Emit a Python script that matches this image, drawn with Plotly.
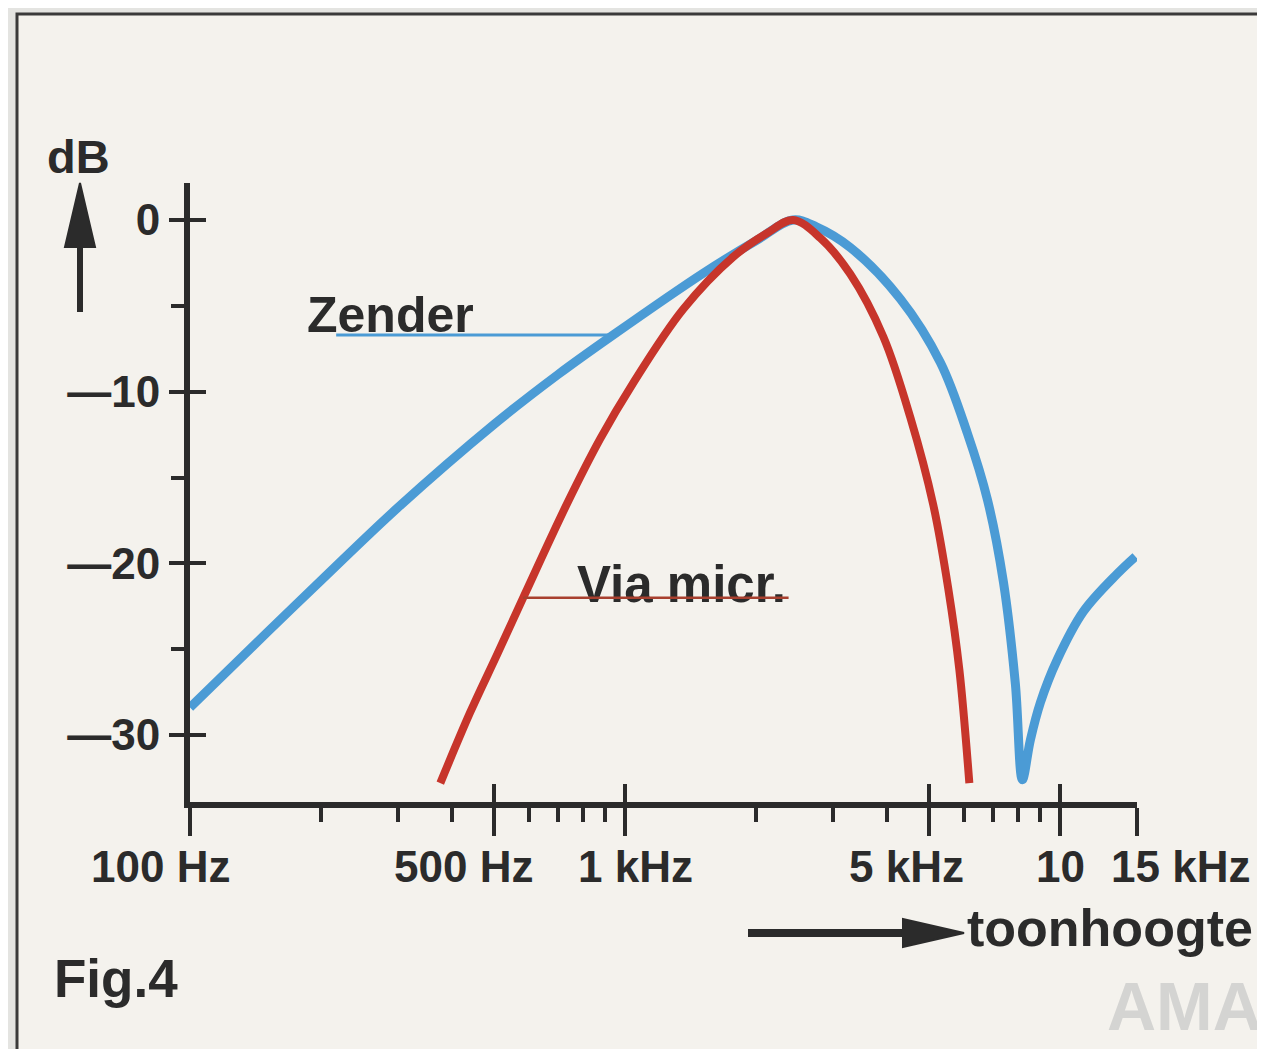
import numpy as np
import plotly.graph_objects as go

# Zender (transmitter) response
zender_freq = [100, 150, 200, 299, 500, 701, 938, 1511, 2000, 2430, 2750, 3290,
               4290, 5300, 6110, 6800, 7400, 7880, 8180, 8530, 9000, 9840, 11300, 13520, 14880]
zender_db = [-28.4, -24.05, -21.0, -16.8, -11.9, -9.0, -6.7, -3.1, -1.2, 0.0, -0.4, -1.6,
             -4.6, -8.3, -12.4, -16.3, -21.1, -27.0, -32.6, -30.3, -28.1, -25.6, -22.8, -20.6, -19.6]

# Via microfoon response
micr_freq = [376, 440, 508, 583, 736, 876, 1043, 1359, 1771, 2121, 2430,
             2808, 3290, 3919, 4521, 5105, 5528, 5860, 6178]
micr_db = [-32.8, -28.7, -25.3, -22.0, -16.5, -12.75, -9.5, -5.2, -2.15, -0.76, 0.0,
           -1.05, -3.15, -6.8, -11.5, -16.6, -21.5, -26.2, -32.8]

x_major = [100, 500, 1000, 5000, 10000, 15000]
x_major_text = ["100 Hz", "500 Hz", "1 kHz", "5 kHz", "10", "15 kHz"]
x_minor = [200, 300, 400, 600, 700, 800, 900, 2000, 3000, 4000, 6000, 7000, 8000, 9000]
y_major = [0, -10, -20, -30]
y_major_text = ["0", "\u201410", "\u201420", "\u201430"]
y_minor = [-5, -15, -25]

# how far each x label sits from its tick (pixels), as typeset in the original
x_label_shift = [-30, -31, 10, -23, 0, 43]

INK = "#2b2b2b"
BLUE = "#4b9bd5"
RED = "#c7352b"
PAPER = "#f4f2ed"
FONT = "Liberation Sans"

# page puts the figure 8px in from the top-left corner
OFF = 8
W, H = 1265, 1049
# plot area in screen pixels
L, R, T, B = 190, 1137, 183, 802


def px(x):
    return (x - L) / (R - L)


def py(y):
    return (B - y) / (B - T)


x_range = [2, np.log10(15000)]
y_range = [-33.9, 2.155]

fig = go.Figure()
fig.add_trace(go.Scatter(
    x=zender_freq, y=zender_db, mode="lines", name="Zender",
    line=dict(color=BLUE, width=9, shape="spline", smoothing=1.0),
    hoverinfo="x+y"
))
fig.add_trace(go.Scatter(
    x=micr_freq, y=micr_db, mode="lines", name="Via micr.",
    line=dict(color=RED, width=8, shape="spline", smoothing=1.0),
    hoverinfo="x+y"
))
# empty trace so the overlay axes (inner half of the major ticks) get drawn
fig.add_trace(go.Scatter(x=[], y=[], xaxis="x2", yaxis="y2", showlegend=False))

tick_font = dict(family=FONT, size=44, color=INK, weight="bold")
label_font = dict(family=FONT, size=50, color=INK, weight="bold")

i_z = zender_freq.index(938)
i_m = micr_freq.index(583)

annotations = [
    dict(text="dB", x=px(78), y=py(157), xref="paper", yref="paper",
         showarrow=False, font=dict(family=FONT, size=47, color=INK, weight="bold"),
         xanchor="center", yanchor="middle"),
    dict(text="toonhoogte", x=px(965), y=py(928), xref="paper", yref="paper",
         showarrow=False, font=dict(family=FONT, size=52, color=INK, weight="bold"),
         xanchor="left", yanchor="middle"),
    dict(text="Fig.4", x=px(52), y=py(978), xref="paper", yref="paper",
         showarrow=False, font=dict(family=FONT, size=53, color=INK, weight="bold"),
         xanchor="left", yanchor="middle"),
    dict(text="AMA", x=px(1264), y=py(1006), xref="paper", yref="paper",
         showarrow=False, font=dict(family=FONT, size=68, color="#d4d4d2", weight="bold"),
         xanchor="right", yanchor="middle"),
    # Zender label and leader line
    dict(text="Zender", x=px(305), y=py(315), xref="paper", yref="paper",
         showarrow=False, font=label_font, xanchor="left", yanchor="middle"),
    dict(text="", x=np.log10(zender_freq[i_z]), y=zender_db[i_z], xref="x", yref="y",
         showarrow=True, axref="x", ayref="y", ax=np.log10(215), ay=zender_db[i_z],
         arrowhead=0, arrowwidth=3, arrowcolor=BLUE, standoff=0, startstandoff=0),
    # Via micr. label and leader line
    dict(text="Via micr.", x=px(575), y=py(584), xref="paper", yref="paper",
         showarrow=False, font=dict(family=FONT, size=51, color=INK, weight="bold"),
         xanchor="left", yanchor="middle"),
    dict(text="", x=np.log10(micr_freq[i_m]), y=micr_db[i_m], xref="x", yref="y",
         showarrow=True, axref="x", ayref="y", ax=np.log10(2393), ay=micr_db[i_m],
         arrowhead=0, arrowwidth=2.5, arrowcolor="#a8402f", standoff=0, startstandoff=0),
]

# frequency labels under the major ticks
for val, txt, shift in zip(x_major, x_major_text, x_label_shift):
    annotations.append(dict(
        text=txt, x=np.log10(val), y=py(866), xref="x", yref="paper",
        xshift=shift, showarrow=False, font=tick_font,
        xanchor="center", yanchor="middle"))


def tri(p1, p2, p3):
    pts = [p1, p2, p3]
    return "M " + " L ".join(f"{px(a):.5f},{py(b):.5f}" for a, b in pts) + " Z"


shapes = [
    # page frame
    dict(type="rect", xref="paper", yref="paper", layer="below",
         x0=px(17), x1=px(1262), y0=py(1080), y1=py(14),
         fillcolor=PAPER, line=dict(color="#3a3a3a", width=3)),
    # dB arrow
    dict(type="line", xref="paper", yref="paper", x0=px(80), x1=px(80),
         y0=py(312), y1=py(240), line=dict(color=INK, width=6)),
    dict(type="path", xref="paper", yref="paper", path=tri((80, 183), (65, 247), (95, 247)),
         fillcolor=INK, line=dict(color=INK, width=2)),
    # toonhoogte arrow
    dict(type="line", xref="paper", yref="paper", x0=px(748), x1=px(910),
         y0=py(933), y1=py(933), line=dict(color=INK, width=8)),
    dict(type="path", xref="paper", yref="paper", path=tri((964, 933), (903, 919), (903, 947)),
         fillcolor=INK, line=dict(color=INK, width=2)),
]

fig.update_layout(
    width=W, height=H,
    margin=dict(l=L - OFF, r=W - (R - OFF), t=T - OFF, b=H - (B - OFF)),
    paper_bgcolor="#e4e4e1",
    plot_bgcolor="rgba(0,0,0,0)",
    showlegend=False,
    shapes=shapes,
    annotations=annotations,
    xaxis=dict(
        type="log", range=x_range, showgrid=False, zeroline=False,
        showline=True, linecolor=INK, linewidth=6,
        ticks="outside", ticklen=28, tickwidth=4, tickcolor=INK,
        tickmode="array", tickvals=x_major, showticklabels=False,
        minor=dict(tickmode="array", tickvals=x_minor, ticks="outside",
                   ticklen=14, tickwidth=4, tickcolor=INK, showgrid=False),
    ),
    xaxis2=dict(
        type="log", range=x_range, overlaying="x", anchor="y2", side="bottom",
        showgrid=False, zeroline=False, showline=False,
        ticks="inside", ticklen=18, tickwidth=4, tickcolor=INK,
        tickmode="array", tickvals=x_major, showticklabels=False,
    ),
    yaxis=dict(
        range=y_range, showgrid=False, zeroline=False,
        showline=True, linecolor=INK, linewidth=6,
        ticks="outside", ticklen=15, tickwidth=4, tickcolor=INK,
        tickmode="array", tickvals=y_major, ticktext=y_major_text,
        tickfont=tick_font,
        minor=dict(tickmode="array", tickvals=y_minor, ticks="outside",
                   ticklen=13, tickwidth=4, tickcolor=INK, showgrid=False),
    ),
    yaxis2=dict(
        range=y_range, overlaying="y", anchor="x2", side="left",
        showgrid=False, zeroline=False, showline=False,
        ticks="inside", ticklen=16, tickwidth=4, tickcolor=INK,
        tickmode="array", tickvals=y_major, showticklabels=False,
    ),
)

fig.write_html("out.html")
